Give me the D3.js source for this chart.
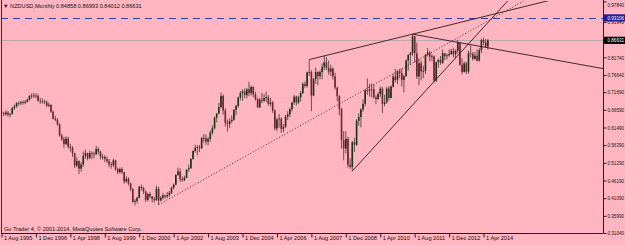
<!DOCTYPE html>
<html><head><meta charset="utf-8">
<script src="https://cdn.jsdelivr.net/npm/d3@7/dist/d3.min.js"></script>
<style>
html,body{margin:0;padding:0;background:#FFB6C1;overflow:hidden}
svg{display:block}
text{font-family:"Liberation Sans",Arial,sans-serif}
</style></head>
<body>
<svg id="c" width="625" height="245"></svg>
<script>
// ---------------- DATA ----------------
const symbolTitle = "NZDUSD,Monthly";
const currentOHLC = ["0.84858", "0.86993", "0.84012", "0.86631"];
const copyright = "Go Trader 4, \u00A9 2001-2014, MetaQuotes Software Corp.";
const firstMonth = "1995-08";   // first bar
const lastAxisMonth = 279.5;    // months shown in the window (incl. future space)

// Monthly bars Aug 1995 .. Jun 2014
const open = [
 0.6620,0.6560,0.6530,0.6580,0.6520,
 0.6540,0.6710,0.6760,0.6850,0.6850,0.6880,0.6860,0.6890,0.6950,0.7060,0.7070,0.7070,
 0.7060,0.6920,0.6900,0.6900,0.6880,0.6770,0.6800,0.6600,0.6400,0.6370,0.6240,0.5920,
 0.5810,0.5670,0.5830,0.5590,0.5560,0.5400,0.5050,0.5180,0.4960,0.5080,0.5330,0.5410,
 0.5270,0.5410,0.5390,0.5380,0.5530,0.5450,0.5300,0.5300,0.5240,0.5180,0.5080,0.5060,
 0.5200,0.4950,0.4860,0.4950,0.4860,0.4590,0.4670,0.4530,0.4370,0.4000,0.4030,0.4120,
 0.4440,0.4400,0.4300,0.4060,0.4230,0.4160,0.4090,0.4050,0.4380,0.4040,0.4120,0.4190,
 0.4160,0.4200,0.4260,0.4410,0.4500,0.4780,0.4880,0.4660,0.4630,0.4700,0.4930,0.4970,
 0.5240,0.5470,0.5560,0.5580,0.5550,0.5840,0.5840,0.5740,0.5820,0.6000,0.6130,0.6430,
 0.6550,0.6740,0.7060,0.6640,0.6280,0.6250,0.6330,0.6370,0.6660,0.6770,0.7010,0.7140,
 0.7190,0.7080,0.7250,0.7140,0.7320,0.7100,0.6970,0.6730,0.6950,0.6920,0.7000,0.7020,
 0.6830,0.6870,0.6630,0.6120,0.6380,0.6400,0.6110,0.6170,0.6460,0.6530,0.6680,0.6870,
 0.7040,0.6870,0.7020,0.7140,0.7400,0.7350,0.7740,0.7750,0.7070,0.7550,0.7750,0.7630,
 0.7750,0.7890,0.8030,0.7870,0.7760,0.7850,0.7620,0.7300,0.7050,0.6690,0.5790,0.5540,
 0.5820,0.5070,0.5010,0.5720,0.5650,0.6340,0.6450,0.6670,0.6830,0.7220,0.7200,0.7240,
 0.7250,0.7020,0.6970,0.7110,0.7270,0.6830,0.6880,0.7270,0.7000,0.7330,0.7620,0.7520,
 0.7770,0.7720,0.7520,0.7630,0.8080,0.8240,0.8290,0.8780,0.8290,0.7620,0.8000,0.7770,
 0.7780,0.8250,0.8310,0.8190,0.8200,0.7500,0.8030,0.8100,0.8020,0.8290,0.8210,0.8230,
 0.8270,0.8360,0.8260,0.8360,0.8590,0.7960,0.7750,0.8000,0.7760,0.8290,0.8270,0.8130,
 0.8220,0.8080,0.8380,0.8670,0.8600,0.84858
];
const high = [
 0.6680,0.6600,0.6640,0.6630,0.6570,
 0.6740,0.6810,0.6880,0.6900,0.6920,0.6930,0.6940,0.6990,0.7080,0.7130,0.7150,0.7140,
 0.7120,0.7000,0.6990,0.6950,0.6930,0.6870,0.6820,0.6640,0.6480,0.6420,0.6270,0.5970,
 0.5870,0.5900,0.5880,0.5680,0.5610,0.5420,0.5290,0.5200,0.5150,0.5460,0.5510,0.5420,
 0.5480,0.5460,0.5450,0.5620,0.5580,0.5480,0.5380,0.5350,0.5310,0.5240,0.5150,0.5250,
 0.5220,0.4990,0.4990,0.5000,0.4870,0.4740,0.4710,0.4560,0.4400,0.4080,0.4150,0.4460,
 0.4500,0.4440,0.4330,0.4260,0.4280,0.4170,0.4150,0.4470,0.4440,0.4170,0.4260,0.4210,
 0.4290,0.4320,0.4440,0.4530,0.4800,0.4990,0.4970,0.4740,0.4760,0.4940,0.5080,0.5260,
 0.5490,0.5650,0.5640,0.5640,0.5880,0.5960,0.5950,0.5870,0.6060,0.6210,0.6470,0.6560,
 0.6860,0.7150,0.7100,0.6700,0.6380,0.6420,0.6500,0.6680,0.6800,0.7040,0.7200,0.7250,
 0.7270,0.7290,0.7470,0.7360,0.7340,0.7180,0.7010,0.7000,0.7150,0.7110,0.7180,0.7080,
 0.7000,0.6910,0.6680,0.6430,0.6540,0.6440,0.6250,0.6510,0.6620,0.6720,0.6890,0.7090,
 0.7060,0.7070,0.7200,0.7450,0.7480,0.7760,0.8108,0.7800,0.7580,0.7880,0.7770,0.7800,
 0.8000,0.8215,0.8180,0.8080,0.7960,0.7880,0.7730,0.7320,0.7080,0.6720,0.6040,0.6040,
 0.5880,0.5260,0.5760,0.5850,0.6390,0.6560,0.6700,0.6960,0.7260,0.7560,0.7410,0.7420,
 0.7400,0.7080,0.7170,0.7330,0.7320,0.7090,0.7320,0.7340,0.7360,0.7700,0.7840,0.7800,
 0.7840,0.7850,0.7670,0.8110,0.8260,0.8330,0.8842,0.8800,0.8600,0.8140,0.8080,0.7930,
 0.8260,0.8440,0.8360,0.8260,0.8230,0.8050,0.8140,0.8210,0.8400,0.8300,0.8280,0.8400,
 0.8420,0.8450,0.8400,0.8680,0.8600,0.8150,0.8050,0.8050,0.8370,0.8520,0.8330,0.8330,
 0.8400,0.8440,0.8710,0.8740,0.8700,0.86993
];
const low = [
 0.6470,0.6480,0.6490,0.6460,0.6440,
 0.6520,0.6660,0.6720,0.6780,0.6790,0.6810,0.6820,0.6870,0.6920,0.6980,0.7010,0.6990,
 0.6890,0.6830,0.6840,0.6820,0.6740,0.6740,0.6570,0.6380,0.6330,0.6200,0.5880,0.5760,
 0.5560,0.5640,0.5540,0.5450,0.5300,0.4980,0.5000,0.4800,0.4870,0.5010,0.5240,0.5200,
 0.5240,0.5230,0.5260,0.5350,0.5370,0.5230,0.5220,0.5150,0.5120,0.5000,0.4960,0.5010,
 0.4900,0.4800,0.4820,0.4800,0.4520,0.4550,0.4480,0.4310,0.3980,0.3900,0.3960,0.4100,
 0.4330,0.4230,0.4000,0.4020,0.4110,0.3990,0.3980,0.4040,0.3920,0.4020,0.4070,0.4090,
 0.4110,0.4140,0.4230,0.4370,0.4480,0.4750,0.4580,0.4580,0.4600,0.4680,0.4870,0.4960,
 0.5220,0.5420,0.5350,0.5440,0.5530,0.5720,0.5650,0.5640,0.5740,0.5940,0.6090,0.6300,
 0.6530,0.6700,0.6520,0.6180,0.6030,0.6130,0.6270,0.6340,0.6500,0.6720,0.6930,0.6920,
 0.6990,0.6990,0.7050,0.7070,0.7020,0.6920,0.6710,0.6710,0.6850,0.6890,0.6880,0.6780,
 0.6750,0.6570,0.6070,0.6040,0.6140,0.5990,0.6010,0.6140,0.6360,0.6450,0.6610,0.6800,
 0.6780,0.6820,0.6890,0.7110,0.7300,0.7300,0.7640,0.6620,0.7050,0.7410,0.7370,0.7540,
 0.7540,0.7800,0.7810,0.7670,0.7630,0.7530,0.7240,0.6900,0.6500,0.5540,0.5200,0.5400,
 0.4990,0.4960,0.4890,0.5440,0.5620,0.6200,0.6150,0.6600,0.6760,0.7090,0.7040,0.7020,
 0.6980,0.6820,0.6940,0.7030,0.6570,0.6760,0.6830,0.6920,0.6990,0.7300,0.7450,0.7400,
 0.7570,0.7330,0.7160,0.7610,0.7790,0.7950,0.8220,0.8020,0.7550,0.7370,0.7510,0.7570,
 0.7690,0.8200,0.8060,0.8070,0.7460,0.7460,0.7870,0.7960,0.7980,0.8090,0.8110,0.8190,
 0.8240,0.8170,0.8140,0.8280,0.7930,0.7680,0.7730,0.7690,0.7700,0.8170,0.8080,0.8100,
 0.8050,0.8050,0.8300,0.8520,0.8460,0.84012
];
const close = [
 0.6560,0.6530,0.6580,0.6520,0.6540,
 0.6710,0.6760,0.6850,0.6850,0.6880,0.6860,0.6890,0.6950,0.7060,0.7070,0.7070,0.7060,
 0.6920,0.6900,0.6900,0.6880,0.6770,0.6800,0.6600,0.6400,0.6370,0.6240,0.5920,0.5810,
 0.5670,0.5830,0.5590,0.5560,0.5400,0.5050,0.5180,0.4960,0.5080,0.5330,0.5410,0.5270,
 0.5410,0.5390,0.5380,0.5530,0.5450,0.5300,0.5300,0.5240,0.5180,0.5080,0.5060,0.5200,
 0.4950,0.4860,0.4950,0.4860,0.4590,0.4670,0.4530,0.4370,0.4000,0.4030,0.4120,0.4440,
 0.4400,0.4300,0.4060,0.4230,0.4160,0.4090,0.4050,0.4380,0.4040,0.4120,0.4190,0.4160,
 0.4200,0.4260,0.4410,0.4500,0.4780,0.4880,0.4660,0.4630,0.4700,0.4930,0.4970,0.5240,
 0.5470,0.5560,0.5580,0.5550,0.5840,0.5840,0.5740,0.5820,0.6000,0.6130,0.6430,0.6550,
 0.6740,0.7060,0.6640,0.6280,0.6250,0.6330,0.6370,0.6660,0.6770,0.7010,0.7140,0.7190,
 0.7080,0.7250,0.7140,0.7320,0.7100,0.6970,0.6730,0.6950,0.6920,0.7000,0.7020,0.6830,
 0.6870,0.6630,0.6120,0.6380,0.6400,0.6110,0.6170,0.6460,0.6530,0.6680,0.6870,0.7040,
 0.6870,0.7020,0.7140,0.7400,0.7350,0.7740,0.7750,0.7070,0.7550,0.7750,0.7630,0.7750,
 0.7890,0.8030,0.7870,0.7760,0.7850,0.7620,0.7300,0.7050,0.6690,0.5790,0.5540,0.5820,
 0.5070,0.5010,0.5720,0.5650,0.6340,0.6450,0.6670,0.6830,0.7220,0.7200,0.7240,0.7250,
 0.7020,0.6970,0.7110,0.7270,0.6830,0.6880,0.7270,0.7000,0.7330,0.7620,0.7520,0.7770,
 0.7720,0.7520,0.7630,0.8080,0.8240,0.8290,0.8780,0.8290,0.7620,0.8000,0.7770,0.7780,
 0.8250,0.8310,0.8190,0.8200,0.7500,0.8030,0.8100,0.8020,0.8290,0.8210,0.8230,0.8270,
 0.8360,0.8260,0.8360,0.8590,0.7960,0.7750,0.8000,0.7760,0.8290,0.8270,0.8130,0.8220,
 0.8080,0.8380,0.8670,0.8600,0.84858,0.86631
];

// Price scale labels (right axis)
const priceTicks = ["0.97840","0.91940","0.81740","0.76640","0.71690","0.66590",
  "0.61490","0.56390","0.51290","0.46190","0.41090","0.35990","0.31040"];
const priceMin = 0.31040, priceMax = 0.97840;

// Time axis labels
const timeLabels = ["1 Aug 1995","1 Dec 1996","1 Apr 1998","1 Aug 1999","1 Dec 2000",
  "1 Apr 2002","1 Aug 2003","1 Dec 2004","1 Apr 2006","1 Aug 2007","1 Dec 2008",
  "1 Apr 2010","1 Aug 2011","1 Dec 2012","1 Apr 2014"];

// Price level objects
const bidPrice = 0.86631;
const hLinePrice = 0.93106;

// Trend lines (month, price) anchor pairs, drawn as rays to the right
const trendSolid = [
  [["2007-07", 0.8108], ["2011-07", 0.8842]],
  [["2009-03", 0.4890], ["2014-08", 0.93106]],
  [["2011-07", 0.8842], ["2014-05", 0.8460]]
];
const trendDotted = [
  [["2001-09", 0.3920], ["2014-08", 0.9290]]
];

// ---------------- DRAW ----------------
const svg = d3.select("#c");
const W = 625, H = 245;
const L = 1, R = 603, T = 1, B = 233;

const parseM = d3.timeParse("%Y-%m");
const t0 = parseM(firstMonth);
const monthIdx = s => d3.timeMonth.count(t0, typeof s === "string" ? parseM(s) : s);

const x = d3.scaleLinear().domain([0, lastAxisMonth]).range([L + 0.5, R]);
const y = d3.scaleLinear().domain([priceMin, priceMax]).range([B, T + 0.5]);

svg.append("rect").attr("width", W).attr("height", H).attr("fill", "#FFB6C1");

svg.append("defs").append("clipPath").attr("id", "clip")
  .append("rect").attr("x", L).attr("y", T).attr("width", R - L).attr("height", B - T);

const plot = svg.append("g").attr("clip-path", "url(#clip)");

// bid line (grey)
plot.append("line").attr("x1", L).attr("x2", R)
  .attr("y1", Math.round(y(bidPrice)) + 0.5).attr("y2", Math.round(y(bidPrice)) + 0.5)
  .attr("stroke", "#bfa7ad").attr("stroke-width", 1);

// horizontal dashed line
plot.append("line").attr("x1", L).attr("x2", R)
  .attr("y1", Math.round(y(hLinePrice)) + 0.5).attr("y2", Math.round(y(hLinePrice)) + 0.5)
  .attr("stroke", "#3a3aa8").attr("stroke-width", 1).attr("stroke-dasharray", "7,5");

// candles
const bars = close.map((c, i) => ({i, o: open[i], h: high[i], l: low[i], c}));
const g = plot.append("g");
g.selectAll("line.wick").data(bars).enter().append("line")
  .attr("x1", d => x(d.i)).attr("x2", d => x(d.i))
  .attr("y1", d => y(d.h)).attr("y2", d => y(d.l))
  .attr("stroke", "#5a4048").attr("stroke-width", 0.9);
g.selectAll("rect.body").data(bars).enter().append("rect")
  .attr("x", d => x(d.i) - 0.8).attr("width", 1.6)
  .attr("y", d => y(Math.max(d.o, d.c)))
  .attr("height", d => Math.max(0.8, Math.abs(y(d.o) - y(d.c))))
  .attr("fill", d => d.c >= d.o ? "#0f3a14" : "#7a2030");

// trend lines
function ray(pair) {
  const i1 = monthIdx(pair[0][0]), i2 = monthIdx(pair[1][0]);
  const p1 = pair[0][1], p2 = pair[1][1];
  const slope = (p2 - p1) / (i2 - i1);
  const iEnd = lastAxisMonth + 5;
  return [[x(i1), y(p1)], [x(iEnd), y(p1 + slope * (iEnd - i1))]];
}
trendSolid.forEach(pr => {
  const r = ray(pr);
  plot.append("line").attr("x1", r[0][0]).attr("y1", r[0][1]).attr("x2", r[1][0]).attr("y2", r[1][1])
    .attr("stroke", "#2a1a1f").attr("stroke-width", 0.9);
});
trendDotted.forEach(pr => {
  const r = ray(pr);
  plot.append("line").attr("x1", r[0][0]).attr("y1", r[0][1]).attr("x2", r[1][0]).attr("y2", r[1][1])
    .attr("stroke", "#2a1a1f").attr("stroke-width", 0.9).attr("stroke-dasharray", "1,2");
});

// frame
svg.append("line").attr("x1", L + 0.5).attr("x2", L + 0.5).attr("y1", 0).attr("y2", B)
  .attr("stroke", "#3a2a30").attr("stroke-width", 1);

// right price axis
const yAxis = d3.axisRight(y).tickValues(priceTicks.map(Number))
  .tickFormat(d3.format(".5f")).tickSize(3).tickPadding(1);
const ya = svg.append("g").attr("transform", `translate(${R + 0.5},0)`).call(yAxis);
ya.select(".domain").attr("stroke", "#222").attr("d", `M0,0V${B}`);
ya.selectAll(".tick line").attr("stroke", "#222");
ya.selectAll(".tick text").attr("font-size", 5.4).attr("fill", "#111")
  .attr("textLength", 16.5).attr("lengthAdjust", "spacingAndGlyphs")
  .attr("font-family", "Liberation Sans, Arial, sans-serif")
  .attr("dy", d => d === priceMax ? "0.85em" : "0.32em");

// price boxes
function priceBox(v, bg) {
  const yy = y(v);
  svg.append("rect").attr("x", R + 1).attr("y", yy - 3.6).attr("width", 21).attr("height", 7.2).attr("fill", bg);
  svg.append("text").attr("x", R + 4.5).attr("y", yy).attr("dy", "0.35em")
    .attr("font-size", 5.4).attr("fill", "#fff")
    .attr("textLength", 16.5).attr("lengthAdjust", "spacingAndGlyphs")
    .text(v.toFixed(5));
}
priceBox(hLinePrice, "#1f1f9a");
priceBox(bidPrice, "#000");

// bottom time axis
const tParse = d3.timeParse("%d %b %Y");
const tickIdx = timeLabels.map(s => monthIdx(tParse(s)));
const xAxis = d3.axisBottom(x).tickValues(tickIdx)
  .tickFormat((d, i) => timeLabels[i]).tickSize(4).tickPadding(-1);
const xa = svg.append("g").attr("transform", `translate(0,${B + 0.5})`).call(xAxis);
xa.select(".domain").attr("stroke", "#222").attr("d", `M${L},0H${R + 0.5}`);
xa.selectAll(".tick line").attr("stroke", "#222");
xa.selectAll(".tick text").attr("font-size", 5.6).attr("fill", "#111")
  .attr("text-anchor", "start").attr("dx", 2).attr("dy", "0.71em")
  .attr("font-family", "Liberation Sans, Arial, sans-serif");

// title
svg.append("text").attr("x", 3).attr("y", 7.5).attr("font-size", 5.6).attr("fill", "#111")
  .text("\u25BC " + symbolTitle + "  " + currentOHLC.join(" "));

// copyright
svg.append("text").attr("x", 4).attr("y", 231).attr("font-size", 5.6).attr("fill", "#111")
  .text(copyright);
</script>
</body></html>
